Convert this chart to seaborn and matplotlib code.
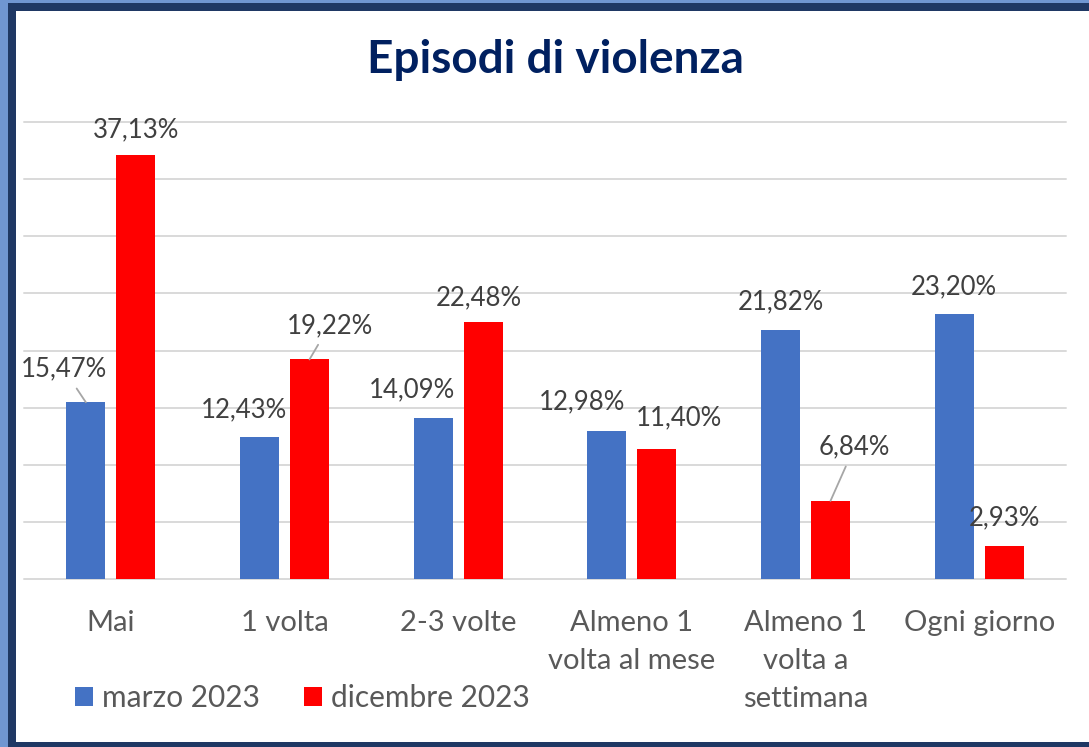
import pandas as pd
import seaborn as sns
import matplotlib.pyplot as plt
from matplotlib.patches import Rectangle

# data
categories = ["Mai", "1 volta", "2-3 volte", "Almeno 1\nvolta al mese",
              "Almeno 1\nvolta a\nsettimana", "Ogni giorno"]
series = ["marzo 2023", "dicembre 2023"]
marzo_2023 = [15.47, 12.43, 14.09, 12.98, 21.82, 23.20]
dicembre_2023 = [37.13, 19.22, 22.48, 11.40, 6.84, 2.93]

palette = {"marzo 2023": "#4472C4", "dicembre 2023": "#FF0000"}

# where each data label sits relative to its bar top (pixels), and leader lines
label_offsets = {
    "marzo 2023": [(-22, 33), (-16, 27), (-21, 28), (-25, 29), (0, 28), (0, 27)],
    "dicembre 2023": [(0, 25), (20, 34), (-4, 24), (22, 31), (24, 54), (0, 28)],
}
leaders = {
    "marzo 2023": [True, False, False, False, False, False],
    "dicembre 2023": [False, True, False, False, True, False],
}

df = pd.DataFrame({
    "categoria": categories * 2,
    "periodo": [series[0]] * len(categories) + [series[1]] * len(categories),
    "valore": marzo_2023 + dicembre_2023,
})

sns.set_theme(style="white")
plt.rcParams["font.family"] = ["Lato", "DejaVu Sans"]

W, H = 1089, 747
fig = plt.figure(figsize=(W / 100, H / 100), dpi=100)
fig.patch.set_facecolor("#7096D1")

# slide-like frame: light blue edge, navy border, white panel
fig.patches.append(Rectangle((8 / W, 0), 1, (H - 3) / H, transform=fig.transFigure,
                             facecolor="#1F3864", edgecolor="none", zorder=-2))
fig.patches.append(Rectangle((16 / W, 5 / H), 1, (H - 16) / H, transform=fig.transFigure,
                             facecolor="white", edgecolor="none", zorder=-1))

ax = fig.add_axes([24 / W, (H - 579) / H, 1042 / W, 457 / H])
ax.set_facecolor("none")

sns.barplot(data=df, x="categoria", y="valore", hue="periodo",
            order=categories, hue_order=series, palette=palette,
            saturation=1, width=0.576, gap=0.22, linewidth=0, ax=ax)

ax.set_xlim(-0.5, len(categories) - 0.5)
ax.set_ylim(0, 40)
ax.set_yticks(range(0, 45, 5))
ax.yaxis.grid(True, color="#D9D9D9", linewidth=1.4)
ax.set_axisbelow(True)
for gl in ax.get_ygridlines():
    gl.set_clip_on(False)
ax.tick_params(axis="y", left=False, labelleft=False)
ax.tick_params(axis="x", length=0, pad=22, labelsize=21, labelcolor="#595959")
for t in ax.get_xticklabels():
    t.set_linespacing(1.58)
sns.despine(ax=ax, left=True, bottom=True)
ax.set_xlabel("")
ax.set_ylabel("")

# data labels
for name, cont in zip(series, ax.containers):
    for i, bar in enumerate(cont):
        v = bar.get_height()
        dx, dy = label_offsets[name][i]
        arrow = None
        if leaders[name][i]:
            arrow = dict(arrowstyle="-", color="#A6A6A6", lw=1.3, shrinkA=3, shrinkB=0)
        ax.annotate(f"{v:.2f}%".replace(".", ","),
                    xy=(bar.get_x() + bar.get_width() / 2, v),
                    xytext=(dx, dy), textcoords="offset pixels",
                    ha="center", va="center", fontsize=18.5, color="#404040",
                    arrowprops=arrow, annotation_clip=False)

sns.move_legend(ax, loc="center left", bbox_to_anchor=(48 / W, 1 - 698 / H),
                bbox_transform=fig.transFigure, ncol=2, frameon=False, title=None,
                fontsize=21.5, handlelength=0.6, handleheight=0.6,
                handletextpad=0.3, columnspacing=1.5, labelcolor="#595959")

fig.text(555 / W, 1 - 60 / H, "Episodi di violenza", ha="center", va="center",
         fontsize=33, fontweight="bold", color="#002060")

fig.savefig("out.png", dpi=100)
